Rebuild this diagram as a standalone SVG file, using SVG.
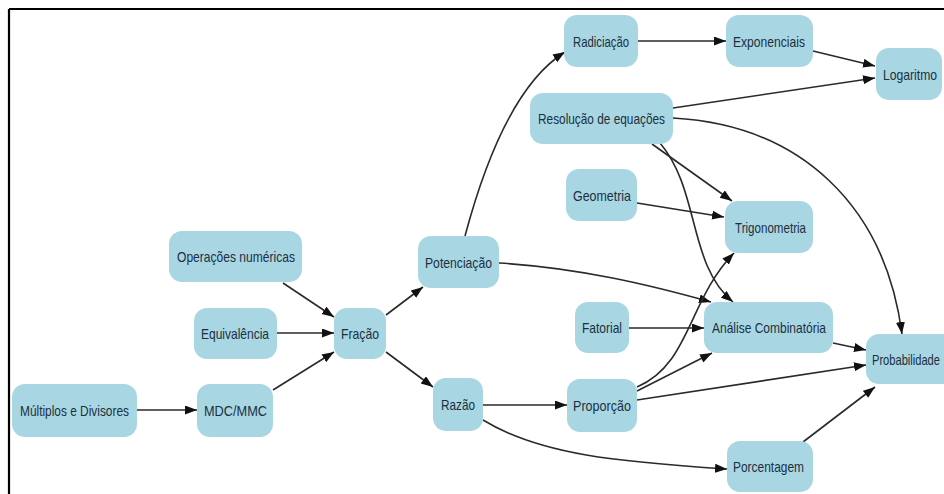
<svg xmlns="http://www.w3.org/2000/svg" width="944" height="494" viewBox="0 0 944 494">
<defs>
<marker id="ah" markerUnits="userSpaceOnUse" markerWidth="13" markerHeight="10" refX="12" refY="4.5" orient="auto">
<path d="M0,0 L12,4.5 L0,9 z" fill="#111"/>
</marker>
<style>
.n rect{fill:#A9D6E3;}
.n text{font-family:"Liberation Sans",Arial,sans-serif;font-size:15px;fill:#1a3040;text-anchor:start;dominant-baseline:central;}
.e path{fill:none;stroke:#2a2a2a;stroke-width:1.6;marker-end:url(#ah);}
</style>
</defs>
<rect x="0" y="0" width="944" height="494" fill="#fff"/>
<path d="M9,9 H944 M9,9 V494" stroke="#000" stroke-width="2.2" fill="none"/>

<g id="connectors" class="e">
<path d="M137,410 L197,410"/>
<path d="M283,283 L334,317"/>
<path d="M277,333 L334,333"/>
<path d="M273,390 L334,352"/>
<path d="M386,315 L423,287"/>
<path d="M386,352 L433,387"/>
<path d="M465,236 C488,150 520,80 565,52"/>
<path d="M637,41 L726,41"/>
<path d="M813,51 L875,66"/>
<path d="M673,108 L875,78"/>
<path d="M673,118 C800,125 885,205 902,334"/>
<path d="M652,144 L732,201"/>
<path d="M660,143 C700,190 688,265 733,302"/>
<path d="M637,203 L724,217"/>
<path d="M499,263 C580,268 650,285 711,302"/>
<path d="M629,328 L704,328"/>
<path d="M637,387 C690,365 688,300 734,253"/>
<path d="M637,391 L712,353"/>
<path d="M637,400 L866,365"/>
<path d="M833,343 L866,350"/>
<path d="M483,405 L567,405"/>
<path d="M483,420 C540,455 620,462 727,469"/>
<path d="M803,442 L875,387"/>
</g>

<g id="radiciacao" class="n"><rect x="564" y="15" width="74" height="52" rx="13"/><text x="573" y="41" textLength="56" lengthAdjust="spacingAndGlyphs">Radiciação</text></g>
<g id="exponenciais" class="n"><rect x="726" y="15" width="87" height="52" rx="13"/><text x="733" y="41" textLength="72" lengthAdjust="spacingAndGlyphs">Exponenciais</text></g>
<g id="logaritmo" class="n"><rect x="876" y="48" width="66" height="52" rx="13"/><text x="883" y="74" textLength="54" lengthAdjust="spacingAndGlyphs">Logaritmo</text></g>
<g id="resolucao" class="n"><rect x="530" y="93" width="143" height="51" rx="13"/><text x="538" y="118" textLength="127" lengthAdjust="spacingAndGlyphs">Resolução de equações</text></g>
<g id="geometria" class="n"><rect x="566" y="169" width="71" height="52" rx="13"/><text x="573" y="195" textLength="58" lengthAdjust="spacingAndGlyphs">Geometria</text></g>
<g id="trigonometria" class="n"><rect x="725" y="201" width="88" height="52" rx="13"/><text x="735" y="227" textLength="71" lengthAdjust="spacingAndGlyphs">Trigonometria</text></g>
<g id="operacoes" class="n"><rect x="169" y="231" width="133" height="51" rx="13"/><text x="177" y="256" textLength="118" lengthAdjust="spacingAndGlyphs">Operações numéricas</text></g>
<g id="potenciacao" class="n"><rect x="418" y="236" width="81" height="52" rx="13"/><text x="425" y="262" textLength="67" lengthAdjust="spacingAndGlyphs">Potenciação</text></g>
<g id="equivalencia" class="n"><rect x="194" y="308" width="83" height="51" rx="13"/><text x="201" y="333" textLength="68" lengthAdjust="spacingAndGlyphs">Equivalência</text></g>
<g id="fracao" class="n"><rect x="334" y="308" width="52" height="51" rx="13"/><text x="341" y="333" textLength="38" lengthAdjust="spacingAndGlyphs">Fração</text></g>
<g id="fatorial" class="n"><rect x="575" y="302" width="54" height="51" rx="13"/><text x="582" y="327" textLength="40" lengthAdjust="spacingAndGlyphs">Fatorial</text></g>
<g id="analise" class="n"><rect x="704" y="302" width="129" height="51" rx="13"/><text x="712" y="327" textLength="114" lengthAdjust="spacingAndGlyphs">Análise Combinatória</text></g>
<g id="probabilidade" class="n"><rect x="866" y="334" width="90" height="50" rx="13"/><text x="872" y="359" textLength="68" lengthAdjust="spacingAndGlyphs">Probabilidade</text></g>
<g id="multiplos" class="n"><rect x="12" y="384" width="125" height="53" rx="13"/><text x="20" y="410" textLength="109" lengthAdjust="spacingAndGlyphs">Múltiplos e Divisores</text></g>
<g id="mdcmmc" class="n"><rect x="197" y="384" width="76" height="53" rx="13"/><text x="204" y="410" textLength="63" lengthAdjust="spacingAndGlyphs">MDC/MMC</text></g>
<g id="razao" class="n"><rect x="433" y="378" width="50" height="53" rx="13"/><text x="441" y="404" textLength="34" lengthAdjust="spacingAndGlyphs">Razão</text></g>
<g id="proporcao" class="n"><rect x="567" y="379" width="70" height="53" rx="13"/><text x="573" y="405" textLength="58" lengthAdjust="spacingAndGlyphs">Proporção</text></g>
<g id="porcentagem" class="n"><rect x="727" y="441" width="86" height="51" rx="13"/><text x="733" y="466" textLength="71" lengthAdjust="spacingAndGlyphs">Porcentagem</text></g>
</svg>
